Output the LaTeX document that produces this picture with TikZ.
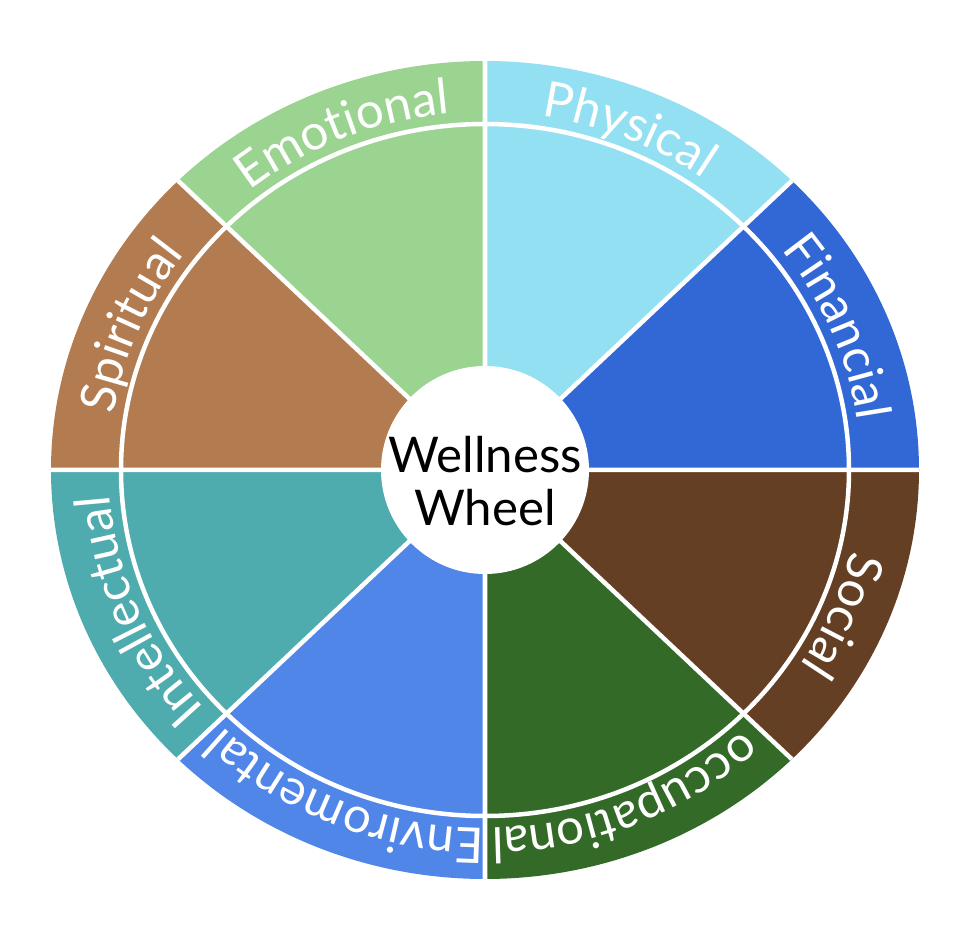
\documentclass[tikz,border=0pt]{standalone}
\usepackage{fontspec}
\setmainfont{Lato}
\usetikzlibrary{decorations.text}
\definecolor{emogreen}{HTML}{9AD490}
\definecolor{physblue}{HTML}{93E0F3}
\definecolor{finblue}{HTML}{3268D6}
\definecolor{socbrown}{HTML}{653F23}
\definecolor{occgreen}{HTML}{336A27}
\definecolor{envblue}{HTML}{4F86E8}
\definecolor{inteal}{HTML}{4EABAE}
\definecolor{spibrown}{HTML}{B27B50}
\tikzset{
    ring/.style={x radius=4.34cm, y radius=4.09cm},
    textring/.style={x radius=3.76cm, y radius=3.58cm},
    divider/.style={draw=white, line width=0.45mm},
    seglabel/.style={decorate, decoration={text along path, text align=center,
        text={|\color{white}|#1}}},
    hub/.style={circle, fill=white, minimum size=2.08cm, inner sep=0pt},
    hubtext/.style={align=center, inner sep=0pt, font=\fontsize{14}{15}\selectfont}
}

\begin{document}
\begin{tikzpicture}
\fontsize{14}{17}\selectfont
\useasboundingbox (-4.85,-4.74) rectangle (4.85,4.70);
% wedges
\fill[physblue, ring] (0,0) -- (90:4.34cm and 4.09cm) arc[start angle=90, end angle=45] -- cycle;
\fill[finblue, ring] (0,0) -- (45:4.34cm and 4.09cm) arc[start angle=45, end angle=0] -- cycle;
\fill[socbrown, ring] (0,0) -- (0:4.34cm and 4.09cm) arc[start angle=0, end angle=-45] -- cycle;
\fill[occgreen, ring] (0,0) -- (-45:4.34cm and 4.09cm) arc[start angle=-45, end angle=-90] -- cycle;
\fill[envblue, ring] (0,0) -- (-90:4.34cm and 4.09cm) arc[start angle=-90, end angle=-135] -- cycle;
\fill[inteal, ring] (0,0) -- (225:4.34cm and 4.09cm) arc[start angle=225, end angle=180] -- cycle;
\fill[spibrown, ring] (0,0) -- (180:4.34cm and 4.09cm) arc[start angle=180, end angle=135] -- cycle;
\fill[emogreen, ring] (0,0) -- (135:4.34cm and 4.09cm) arc[start angle=135, end angle=90] -- cycle;
% dividers
\draw[divider] (0,0) -- (0:4.34cm and 4.09cm) (0,0) -- (45:4.34cm and 4.09cm)
    (0,0) -- (90:4.34cm and 4.09cm) (0,0) -- (135:4.34cm and 4.09cm)
    (0,0) -- (180:4.34cm and 4.09cm) (0,0) -- (225:4.34cm and 4.09cm)
    (0,0) -- (270:4.34cm and 4.09cm) (0,0) -- (315:4.34cm and 4.09cm);
\draw[divider] (0,0) ellipse[x radius=3.64cm, y radius=3.46cm];
% labels
\path[seglabel=Physical, textring] (112.5:3.76cm and 3.58cm) arc[start angle=112.5, end angle=22.5];
\path[seglabel=Financial, textring] (67.5:3.76cm and 3.58cm) arc[start angle=67.5, end angle=-22.5];
\path[seglabel=Social, textring] (22.5:3.76cm and 3.58cm) arc[start angle=22.5, end angle=-67.5];
\path[seglabel=occupational, textring] (-22.5:3.76cm and 3.58cm) arc[start angle=-22.5, end angle=-112.5];
\path[seglabel=Enviromental, textring] (-67.5:3.76cm and 3.58cm) arc[start angle=-67.5, end angle=-157.5];
\path[seglabel=Intellectual, textring] (247.5:3.76cm and 3.58cm) arc[start angle=247.5, end angle=157.5];
\path[seglabel=Spiritual, textring] (202.5:3.76cm and 3.58cm) arc[start angle=202.5, end angle=112.5];
\path[seglabel=Emotional, textring] (157.5:3.76cm and 3.58cm) arc[start angle=157.5, end angle=67.5];
% centre
\node[hub] (hub) at (0,0) {};
\node[hubtext] (hubtext) at ([yshift=-0.11cm]hub.center) {Wellness\\Wheel};
\end{tikzpicture}
\end{document}
